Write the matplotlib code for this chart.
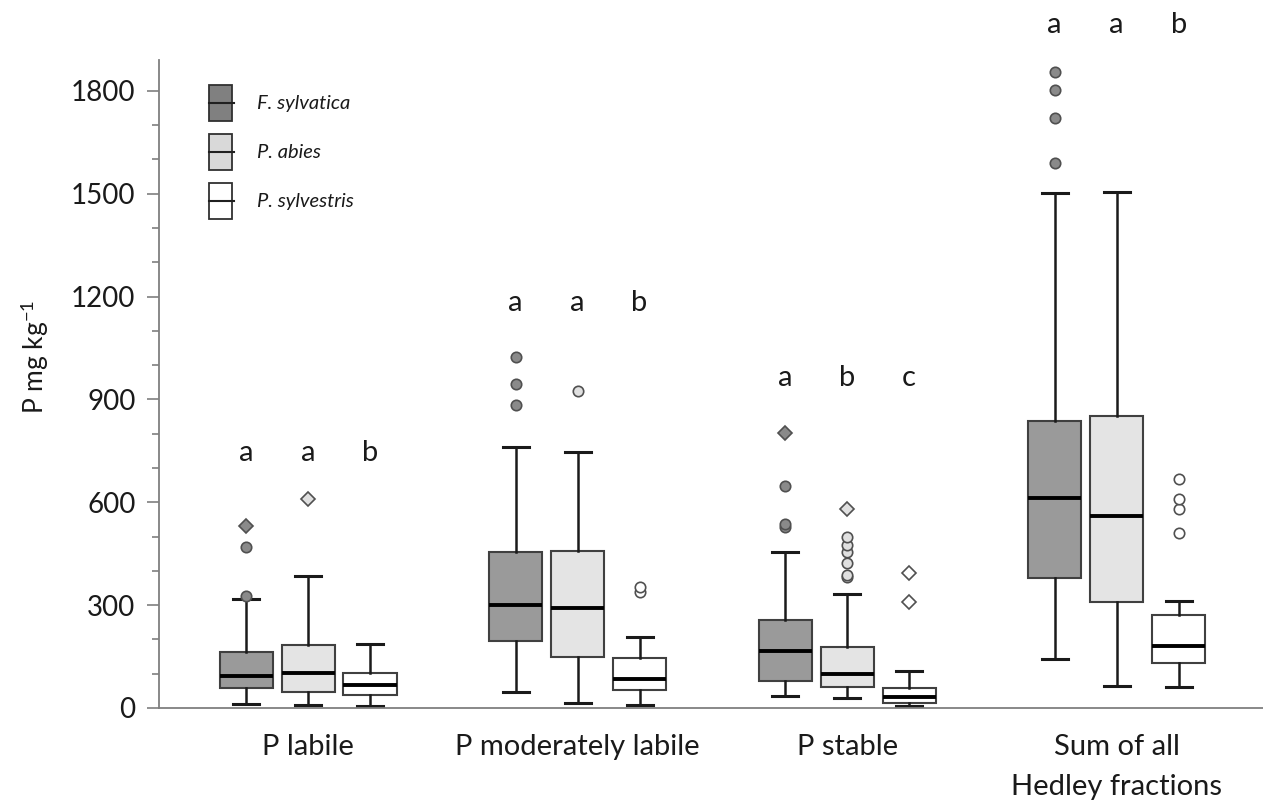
import matplotlib
matplotlib.use("Agg")
import matplotlib.pyplot as plt
from matplotlib.patches import Rectangle
from matplotlib.lines import Line2D
import numpy as np

plt.rcParams['font.family'] = ['Lato', 'DejaVu Sans']
plt.rcParams['mathtext.fontset'] = 'custom'
plt.rcParams['mathtext.rm'] = 'Lato'
plt.rcParams['mathtext.it'] = 'Lato:italic'

fractions = ["P labile", "P moderately labile", "P stable", "Sum of all\nHedley fractions"]
species = ["F. sylvatica", "P. abies", "P. sylvestris"]

# box statistics per species (order of fractions)
fs_med = [92, 300, 167, 613]
fs_q1 = [57, 195, 80, 378]
fs_q3 = [163, 454, 257, 838]
fs_lo = [11, 48, 35, 142]
fs_hi = [318, 760, 454, 1502]

pa_med = [101, 292, 99, 560]
pa_q1 = [48, 148, 60, 310]
pa_q3 = [183, 457, 179, 852]
pa_lo = [9, 14, 30, 65]
pa_hi = [385, 747, 332, 1506]

ps_med = [67, 84, 33, 181]
ps_q1 = [37, 52, 16, 132]
ps_q3 = [101, 145, 58, 271]
ps_lo = [6, 8, 6, 60]
ps_hi = [188, 208, 107, 311]

# outliers (circles) and extreme values (diamonds)
fs_out = [[327, 470], [885, 945, 1025], [529, 537, 648], [1589, 1720, 1803, 1856]]
fs_ext = [[531], [], [803], []]
pa_out = [[], [924], [383, 387, 422, 455, 476, 498], []]
pa_ext = [[610], [], [580], []]
ps_out = [[], [339, 354], [], [511, 580, 610, 667]]
ps_ext = [[], [], [309, 394], []]

letters = [["a", "a", "b"], ["a", "a", "b"], ["a", "b", "c"], ["a", "a", "b"]]
letter_y = [744, 1181, 963, 1992]

box_fill = ["#9a9a9a", "#e4e4e4", "#ffffff"]
legend_fill = ["#808080", "#d9d9d9", "#ffffff"]
out_fill = ["#8a8a8a", "#e0e0e0", "#ffffff"]

W, H = 1263, 801
fig = plt.figure(figsize=(W / 100, H / 100), dpi=100)
ax = fig.add_axes([159 / W, 93 / H, 1 - 159 / W, (708 - 60) / H])

offsets = [-0.23, 0.0, 0.23]
stats_all = [
    (fs_med, fs_q1, fs_q3, fs_lo, fs_hi, fs_out, fs_ext),
    (pa_med, pa_q1, pa_q3, pa_lo, pa_hi, pa_out, pa_ext),
    (ps_med, ps_q1, ps_q3, ps_lo, ps_hi, ps_out, ps_ext),
]
group_x = np.arange(len(fractions))

for s, (med, q1, q3, lo, hi, outs, exts) in enumerate(stats_all):
    bstats = []
    for g in range(len(fractions)):
        bstats.append(dict(med=med[g], q1=q1[g], q3=q3[g], whislo=lo[g], whishi=hi[g], fliers=[]))
    pos = group_x + offsets[s]
    ax.bxp(bstats, positions=pos, widths=0.197, patch_artist=True, showfliers=False,
           capwidths=0.097,
           boxprops=dict(facecolor=box_fill[s], edgecolor="#404040", linewidth=1.5),
           medianprops=dict(color="black", linewidth=2.8),
           whiskerprops=dict(color="#1a1a1a", linewidth=1.8),
           capprops=dict(color="#1a1a1a", linewidth=2.2), zorder=2)
    for g in range(len(fractions)):
        if outs[g]:
            ax.plot([pos[g]] * len(outs[g]), outs[g], linestyle="none", marker="o",
                    markersize=7.5, markerfacecolor=out_fill[s], markeredgecolor="#505050",
                    markeredgewidth=1.2, zorder=3)
        if exts[g]:
            ax.plot([pos[g]] * len(exts[g]), exts[g], linestyle="none", marker="D",
                    markersize=7.5, markerfacecolor=out_fill[s], markeredgecolor="#505050",
                    markeredgewidth=1.2, zorder=3)

for g in range(len(fractions)):
    for s in range(3):
        ax.text(group_x[g] + offsets[s], letter_y[g], letters[g][s], ha="center", va="center",
                fontsize=21, color="#1a1a1a", clip_on=False)

ax.set_xlim(-0.553, 3.543)
ax.set_ylim(0, 1890)
ax.set_xticks(group_x)
ax.set_xticklabels(fractions, fontsize=21, color="#1a1a1a", linespacing=1.65)
ax.tick_params(axis="x", length=0, pad=19)
ax.set_yticks(np.arange(0, 1801, 300))
ax.set_yticks(np.arange(0, 1801, 100), minor=True)
ax.tick_params(axis="y", which="major", length=9, width=1.2, color="#7f7f7f", labelsize=20,
               labelcolor="#1a1a1a", pad=8)
ax.tick_params(axis="y", which="minor", length=5, width=1.2, color="#7f7f7f")
for sp in ["top", "right"]:
    ax.spines[sp].set_visible(False)
for sp in ["left", "bottom"]:
    ax.spines[sp].set_color("#7f7f7f")
    ax.spines[sp].set_linewidth(1.3)

fig.text(35 / W, 1 - 357 / H, r"P mg kg$^{\mathregular{-1}}$", rotation=90, ha="center", va="center",
         fontsize=19, color="#1a1a1a")

# legend
leg_tops = [85, 134, 183]
for s in range(3):
    top = leg_tops[s]
    rect = Rectangle((209 / W, 1 - (top + 36) / H), 23 / W, 36 / H, transform=fig.transFigure,
                     facecolor=legend_fill[s], edgecolor="#303030", linewidth=1.3)
    fig.add_artist(rect)
    ymid = 1 - (top + 18) / H
    fig.add_artist(Line2D([209 / W, 234 / W], [ymid, ymid], transform=fig.transFigure,
                          color="#202020", linewidth=1.5))
    fig.text(257 / W, ymid, species[s], ha="left", va="center", fontsize=14.5, style="italic",
             color="#1a1a1a")

fig.savefig("out.png", dpi=100)
